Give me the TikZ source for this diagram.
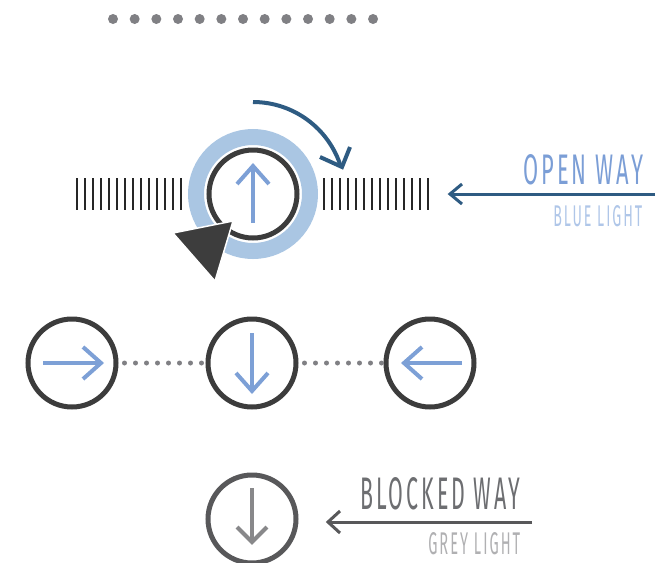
\documentclass[tikz,border=0pt]{standalone}
\usepackage{fontspec}
\usepackage{graphicx}
\newfontfamily\lblfont[LetterSpace=14]{Fira Sans}
\definecolor{dotgrey}{RGB}{128,128,132}
\definecolor{ringblue}{RGB}{170,198,227}
\definecolor{darkblue}{RGB}{46,91,130}
\definecolor{arrblue}{RGB}{125,160,214}
\definecolor{circdark}{RGB}{60,60,60}
\definecolor{circgrey}{RGB}{88,88,90}
\definecolor{arrgrey}{RGB}{136,136,138}
\definecolor{txtblue}{RGB}{123,158,214}
\definecolor{txtlblue}{RGB}{175,198,232}
\definecolor{txtgrey}{RGB}{109,110,113}
\definecolor{txtlgrey}{RGB}{176,176,178}
\tikzset{
  wheel/.style={circle, draw=circdark, line width=3.75pt, minimum size=66pt, inner sep=0pt},
  arr/.style={line width=3pt, line cap=butt, line join=miter, color=arrblue},
  tick/.style={line width=2.1pt, color=black!85},
  dotline/.style={draw=dotgrey, line width=3.75pt, line cap=round, dash pattern=on 0pt off 8.25pt},
}
\begin{document}
\begin{tikzpicture}[x=0.75pt,y=-0.75pt]
\useasboundingbox (0,0) rectangle (669,562);
% top dots
\foreach \i in {0,...,12} \fill[dotgrey] (113+21.67*\i,19) circle (5);
% tick marks
\foreach \i in {0,...,13} {
  \draw[tick] (77+8*\i,178) -- (77+8*\i,210);
  \draw[tick] (324+8*\i,178) -- (324+8*\i,210);
}
% blue ring
\draw[ringblue, line width=12pt] (253,194) circle (57);
\node[wheel] (top) at (253,194) {};
% up arrow
\draw[arr] (253,223) -- (253,166);
\draw[arr] (237,184) -- (253,166) -- (269,184);
% curved arrow
\draw[darkblue, line width=3pt] (253,102) arc[start angle=-90, end angle=-17, radius=92];
\draw[darkblue, line width=3pt, line join=miter] (320,157) -- (342,167) -- (350,147);
% black pointer
\filldraw[fill=black!76, draw=white, line width=1.1pt] (173,233) -- (233,221) -- (215,281) -- cycle;
% open way label
\coordinate (openend) at (655,194);
\coordinate (opentip) at (450,194);
\draw[darkblue, line width=2.25pt] (openend) -- (opentip);
\draw[darkblue, line width=2.25pt, line join=miter] (462,184) -- (opentip) -- (462,204);
\node[anchor=south west, inner sep=0pt, text=txtblue] (ow) at (523,185) {\resizebox{90pt}{22.5pt}{\lblfont OPEN WAY}};
\node[anchor=north west, inner sep=0pt, text=txtlblue] (bl) at (553,205) {\resizebox{66.75pt}{15.75pt}{\lblfont BLUE LIGHT}};
% middle row
\node[wheel] (L) at (72,363) {};
\node[wheel] (M) at (252,363) {};
\node[wheel] (R) at (430,363) {};
\draw[dotline] ([xshift=4.5pt]L.east) -- (M.west);
\draw[dotline] ([xshift=4.5pt]M.east) -- (R.west);
\draw[arr] (43,363) -- (101,363);
\draw[arr] (83,347) -- (101,363) -- (83,379);
\draw[arr] (252,333) -- (252,391);
\draw[arr] (236,373) -- (252,391) -- (268,373);
\draw[arr] (462,363) -- (404,363);
\draw[arr] (422,347) -- (404,363) -- (422,379);
% bottom
\node[wheel, draw=circgrey] (B) at (252,519) {};
\draw[arr, color=arrgrey] (252,488) -- (252,542);
\draw[arr, color=arrgrey] (237,527) -- (252,542) -- (267,527);
\coordinate (blkend) at (532,522);
\coordinate (blktip) at (328,522);
\draw[circgrey, line width=2.25pt] (blkend) -- (blktip);
\draw[circgrey, line width=2.25pt, line join=miter] (340,511) -- (blktip) -- (340,533);
\node[anchor=south west, inner sep=0pt, text=txtgrey] (bw) at (360,510) {\resizebox{120pt}{24pt}{\lblfont BLOCKED WAY}};
\node[anchor=north west, inner sep=0pt, text=txtlgrey] (gl) at (428,532) {\resizebox{69pt}{16.5pt}{\lblfont GREY LIGHT}};
\end{tikzpicture}
\end{document}
